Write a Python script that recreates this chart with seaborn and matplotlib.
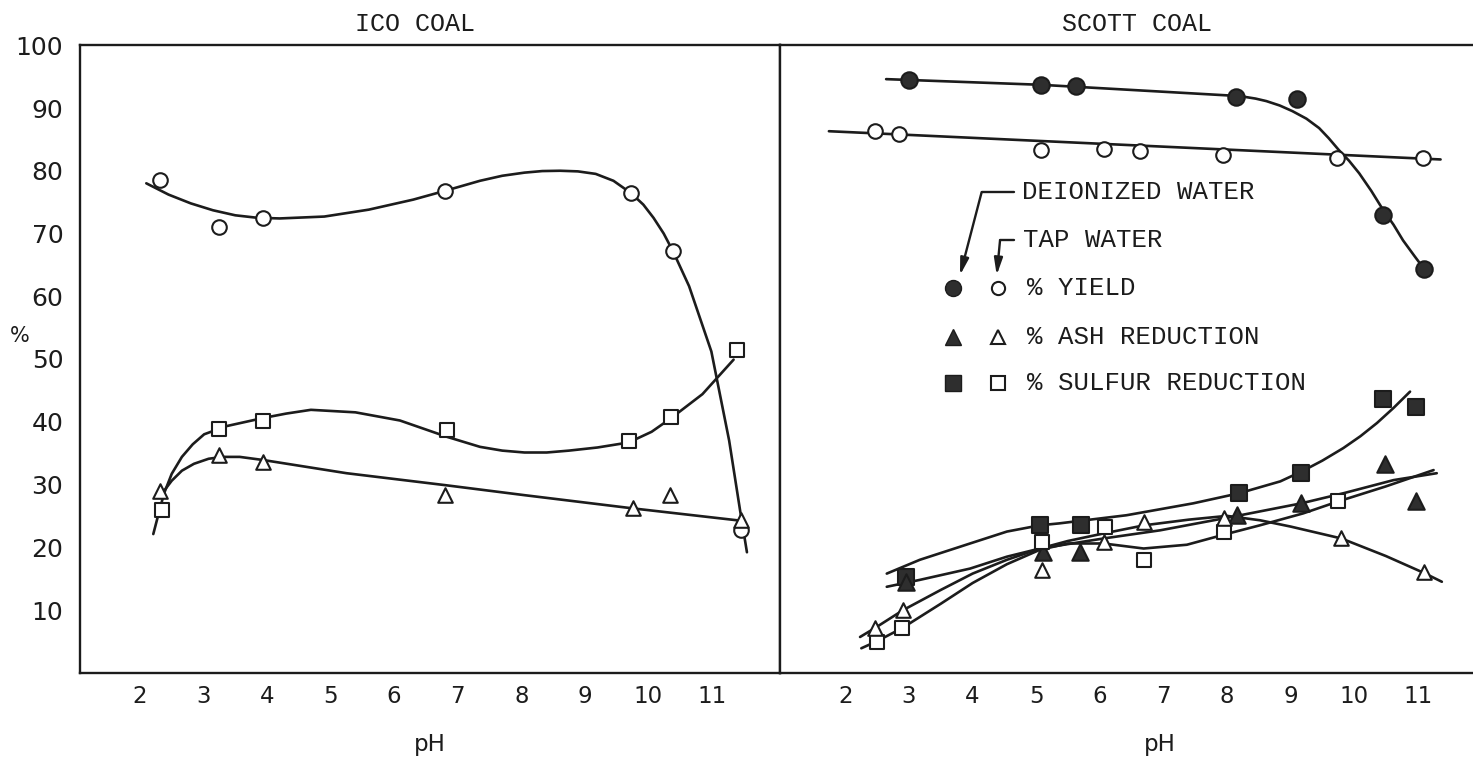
import numpy as np
import pandas as pd
import matplotlib.pyplot as plt
import seaborn as sns

# ---- ICO coal (tap water), measured points
ico_ph_yield = [2.31, 3.24, 3.94, 6.80, 9.73, 10.38, 11.45]
ico_yield = [78.5, 71.1, 72.5, 76.8, 76.4, 67.2, 22.8]
ico_ph_ash = [2.31, 3.24, 3.94, 6.80, 9.75, 10.34, 11.45]
ico_ash = [28.9, 34.7, 33.6, 28.3, 26.3, 28.3, 24.4]
ico_ph_sulfur = [2.34, 3.24, 3.94, 6.83, 9.69, 10.36, 11.39]
ico_sulfur = [26.0, 38.9, 40.1, 38.7, 36.9, 40.7, 51.4]

# ICO hand-drawn curves
ico_yield_curve_ph = [2.10, 2.45, 2.80, 3.15, 3.50, 3.85, 4.20, 4.90, 5.60, 6.30,
                      6.80, 7.35, 7.70, 8.05, 8.33, 8.61, 8.89, 9.17, 9.45, 9.73,
                      9.92, 10.08, 10.24, 10.39, 10.64, 10.99, 11.27, 11.44, 11.55]
ico_yield_curve = [78.0, 76.2, 74.8, 73.7, 72.9, 72.5, 72.4, 72.7, 73.8, 75.4,
                   76.8, 78.4, 79.2, 79.7, 79.95, 80.0, 79.9, 79.5, 78.4, 76.4,
                   74.6, 72.5, 70.0, 67.1, 61.6, 51.2, 37.0, 26.0, 19.2]
ico_sulfur_curve_ph = [2.21, 2.30, 2.38, 2.50, 2.66, 2.83, 3.01, 3.36, 3.94, 4.30,
                       4.69, 5.39, 6.09, 6.83, 7.35, 7.70, 8.05, 8.40, 8.75, 9.20,
                       9.69, 10.05, 10.36, 10.85, 11.34]
ico_sulfur_curve = [22.1, 25.6, 28.6, 31.7, 34.4, 36.4, 38.0, 39.3, 40.6, 41.3,
                    41.9, 41.5, 40.2, 37.6, 36.0, 35.4, 35.1, 35.1, 35.4, 35.9,
                    36.7, 38.4, 40.6, 44.4, 49.9]
ico_ash_curve_ph = [2.35, 2.50, 2.66, 2.85, 3.08, 3.30, 3.57, 3.94, 5.25, 6.80,
                    8.05, 9.75, 11.48]
ico_ash_curve = [28.6, 30.6, 32.2, 33.3, 34.1, 34.4, 34.4, 33.9, 31.8, 29.9,
                 28.3, 26.2, 24.2]

# ---- Scott coal, deionized water (filled markers)
di_ph_yield = [3.00, 5.07, 5.63, 8.15, 9.10, 10.46, 11.10]
di_yield = [94.5, 93.7, 93.5, 91.8, 91.4, 72.9, 64.4]
di_ph_ash = [2.96, 5.11, 5.69, 8.16, 9.17, 10.49, 10.98]
di_ash = [14.4, 19.2, 19.3, 25.1, 27.1, 33.2, 27.4]
di_ph_sulfur = [2.96, 5.06, 5.71, 8.19, 9.17, 10.46, 10.98]
di_sulfur = [15.3, 23.5, 23.5, 28.6, 31.9, 43.6, 42.3]

# Scott coal, tap water (open markers)
tap_ph_yield = [2.47, 2.85, 5.07, 6.06, 6.64, 7.94, 9.73, 11.08]
tap_yield = [86.4, 85.8, 83.3, 83.4, 83.1, 82.5, 82.0, 82.0]
tap_ph_ash = [2.46, 2.91, 5.09, 6.06, 6.69, 7.95, 9.80, 11.10]
tap_ash = [7.1, 10.0, 16.4, 20.9, 24.1, 24.6, 21.5, 16.0]
tap_ph_sulfur = [2.49, 2.89, 5.09, 6.08, 6.69, 7.95, 9.75]
tap_sulfur = [4.9, 7.1, 20.9, 23.3, 18.0, 22.5, 27.3]

# Scott hand-drawn curves
di_yield_curve_ph = [2.64, 5.07, 8.20, 8.45, 8.62, 8.83, 9.03, 9.25, 9.45, 9.60,
                     9.76, 9.92, 10.08, 10.27, 10.46, 10.62, 10.77, 10.95, 11.12]
di_yield_curve = [94.6, 93.7, 91.9, 91.5, 91.1, 90.4, 89.5, 88.3, 86.8, 85.2,
                  83.3, 81.6, 79.6, 76.8, 73.7, 71.4, 68.9, 66.4, 64.1]
tap_yield_curve_ph = [1.74, 11.36]
tap_yield_curve = [86.3, 81.8]
di_sulfur_curve_ph = [2.65, 3.17, 3.96, 4.54, 5.06, 5.36, 6.42, 7.47, 8.19, 8.84,
                      9.18, 9.50, 9.83, 10.10, 10.36, 10.62, 10.88]
di_sulfur_curve = [15.8, 18.0, 20.6, 22.5, 23.5, 23.8, 25.1, 27.0, 28.6, 30.5,
                   32.1, 33.8, 35.8, 37.7, 39.8, 42.2, 44.8]
di_ash_curve_ph = [2.65, 3.17, 3.96, 4.54, 5.06, 6.06, 6.95, 8.16, 9.17, 9.83, 10.62, 11.30]
di_ash_curve = [13.7, 14.8, 16.6, 18.5, 19.8, 21.4, 22.7, 25.0, 27.0, 28.6, 30.7, 31.8]
tap_ash_curve_ph = [2.23, 2.46, 2.91, 3.50, 4.00, 4.54, 5.06, 5.50, 6.06, 6.70,
                    7.40, 8.00, 8.52, 9.00, 9.80, 10.50, 11.10, 11.38]
tap_ash_curve = [5.7, 7.1, 10.0, 13.2, 15.8, 18.0, 19.8, 21.0, 22.2, 23.5,
                 24.4, 25.0, 24.3, 23.3, 21.4, 18.6, 15.9, 14.5]
tap_sulfur_curve_ph = [2.25, 2.49, 2.89, 3.50, 4.00, 4.54, 5.06, 5.50, 6.06, 6.69,
                       7.37, 7.95, 8.52, 9.20, 9.75, 10.50, 11.25]
tap_sulfur_curve = [3.9, 5.0, 7.1, 11.0, 14.3, 17.3, 19.6, 20.6, 20.6, 19.8,
                    20.4, 22.0, 23.5, 25.4, 27.3, 29.7, 32.3]

ph_ticks = [2, 3, 4, 5, 6, 7, 8, 9, 10, 11]
pct_ticks = [10, 20, 30, 40, 50, 60, 70, 80, 90, 100]

sns.set_style("white")
plt.rcParams['font.family'] = ['DejaVu Sans']
ink = '#1c1c1c'
fill = '#2e2e2e'
mono = 'Liberation Mono'

W, H = 1473, 762
fig = plt.figure(figsize=(W / 100, H / 100), dpi=100)
bottom = 1 - 672.75 / H
height = 627.5 / H
ax1 = fig.add_axes([80 / W, bottom, 700 / W, height])
ax2 = fig.add_axes([780 / W, bottom, 693 / W, height])


def curve(ax, ph, vals):
    sns.lineplot(x=ph, y=vals, ax=ax, color=ink, linewidth=1.9, sort=False,
                 estimator=None, zorder=2)


def points(ax, ph, vals, marker, filled):
    sns.scatterplot(x=ph, y=vals, ax=ax, marker=marker,
                    s=140 if filled else 110,
                    color=fill if filled else 'white', edgecolor=ink,
                    linewidth=1.5, zorder=3)


# left panel
curve(ax1, ico_yield_curve_ph, ico_yield_curve)
curve(ax1, ico_sulfur_curve_ph, ico_sulfur_curve)
curve(ax1, ico_ash_curve_ph, ico_ash_curve)
points(ax1, ico_ph_yield, ico_yield, 'o', False)
points(ax1, ico_ph_sulfur, ico_sulfur, 's', False)
points(ax1, ico_ph_ash, ico_ash, '^', False)

# right panel
curve(ax2, di_yield_curve_ph, di_yield_curve)
curve(ax2, tap_yield_curve_ph, tap_yield_curve)
curve(ax2, di_sulfur_curve_ph, di_sulfur_curve)
curve(ax2, di_ash_curve_ph, di_ash_curve)
curve(ax2, tap_ash_curve_ph, tap_ash_curve)
curve(ax2, tap_sulfur_curve_ph, tap_sulfur_curve)
points(ax2, di_ph_yield, di_yield, 'o', True)
points(ax2, di_ph_sulfur, di_sulfur, 's', True)
points(ax2, di_ph_ash, di_ash, '^', True)
points(ax2, tap_ph_yield, tap_yield, 'o', False)
points(ax2, tap_ph_sulfur, tap_sulfur, 's', False)
points(ax2, tap_ph_ash, tap_ash, '^', False)

for ax in (ax1, ax2):
    ax.set_ylim(0, 100)
    ax.set_xticks(ph_ticks)
    ax.set_xticklabels([str(t) for t in ph_ticks], fontsize=16.5)
    ax.set_yticks(pct_ticks[:-1])
    ax.tick_params(axis='x', direction='in', length=23, width=1.5, color=ink,
                   pad=9, labelcolor=ink)
    ax.tick_params(axis='y', direction='in', length=20, width=1.5, color=ink)
    ax.set_xlabel('')
    ax.set_ylabel('')
    for s in ax.spines.values():
        s.set_linewidth(1.7)
        s.set_color(ink)
    ax.text(0.5 if ax is ax1 else 0.548, -0.115, 'pH', transform=ax.transAxes,
            ha='center', va='center', fontsize=16.5, color=ink)

ax1.set_xlim(1.057, 12.07)
ax2.set_xlim(0.971, 11.87)
ax1.set_yticks(pct_ticks)
ax1.set_yticklabels([str(t) for t in pct_ticks], fontsize=18, color=ink)
ax1.tick_params(axis='y', pad=12)
ax2.tick_params(axis='y', labelleft=False)
ax2.spines['right'].set_visible(False)

ax1.text(0.479, 1.034, 'ICO COAL', transform=ax1.transAxes, ha='center',
         va='center', fontsize=18, family=mono, color=ink)
ax2.text(0.515, 1.034, 'SCOTT COAL', transform=ax2.transAxes, ha='center',
         va='center', fontsize=18, family=mono, color=ink)
fig.text(20 / W, 1 - 336 / H, '%', ha='center', va='center', fontsize=15, color=ink)

# legend drawn by hand, as in the original
lx_fill, lx_open, lx_text = 0.250, 0.315, 0.356
rows = [(0.613, 'o', '% YIELD'), (0.5355, '^', '% ASH REDUCTION'),
        (0.461, 's', '% SULFUR REDUCTION')]
for ry, mk, label in rows:
    ax2.plot([lx_fill], [ry], marker=mk, ms=11.5, color=fill, mec=ink,
             transform=ax2.transAxes, clip_on=False)
    ax2.plot([lx_open], [ry], marker=mk, ms=9.5, mfc='white', mec=ink, mew=1.5,
             transform=ax2.transAxes, clip_on=False)
    ax2.text(lx_text, ry, label, transform=ax2.transAxes, ha='left', va='center',
             fontsize=18.5, family=mono, color=ink)

ax2.text(0.349, 0.766, 'DEIONIZED WATER', transform=ax2.transAxes, ha='left',
         va='center', fontsize=18.5, family=mono, color=ink)
ax2.text(0.350, 0.689, 'TAP WATER', transform=ax2.transAxes, ha='left',
         va='center', fontsize=18.5, family=mono, color=ink)
ax2.plot([0.291, 0.338], [0.766, 0.766], color=ink, lw=1.7, transform=ax2.transAxes)
ax2.annotate('', xy=(0.2597, 0.6335), xytext=(0.291, 0.766),
             xycoords='axes fraction', textcoords='axes fraction',
             arrowprops=dict(arrowstyle='-|>,head_length=1.0,head_width=0.25',
                             color=ink, lw=1.7, shrinkA=0, shrinkB=0))
ax2.plot([0.3175, 0.3375], [0.689, 0.689], color=ink, lw=1.7, transform=ax2.transAxes)
ax2.annotate('', xy=(0.3127, 0.6335), xytext=(0.3175, 0.689),
             xycoords='axes fraction', textcoords='axes fraction',
             arrowprops=dict(arrowstyle='-|>,head_length=1.0,head_width=0.25',
                             color=ink, lw=1.7, shrinkA=0, shrinkB=0))

fig.savefig('out.png', dpi=100)
